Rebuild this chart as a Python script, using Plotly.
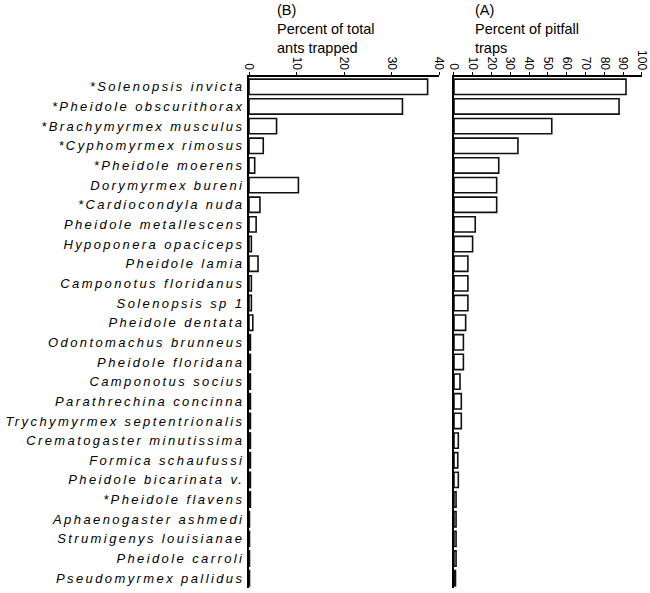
import plotly.graph_objects as go

species = [
    "*Solenopsis invicta", "*Pheidole obscurithorax", "*Brachymyrmex musculus",
    "*Cyphomyrmex rimosus", "*Pheidole moerens", "Dorymyrmex bureni",
    "*Cardiocondyla nuda", "Pheidole metallescens", "Hypoponera opaciceps",
    "Pheidole lamia", "Camponotus floridanus", "Solenopsis sp 1",
    "Pheidole dentata", "Odontomachus brunneus", "Pheidole floridana",
    "Camponotus socius", "Parathrechina concinna", "Trychymyrmex septentrionalis",
    "Crematogaster minutissima", "Formica schaufussi", "Pheidole bicarinata v.",
    "*Pheidole flavens", "Aphaenogaster ashmedi", "Strumigenys louisianae",
    "Pheidole carroli", "Pseudomyrmex pallidus",
]

# (B) Percent of total ants trapped
pct_ants = [37.6, 32.3, 5.8, 3.0, 1.2, 10.4, 2.3, 1.5, 0.5, 1.9, 0.5, 0.5,
            0.8, 0.3, 0.3, 0.3, 0.3, 0.3, 0.3, 0.3, 0.3, 0.3, 0.1, 0.1, 0.1, 0.1]

# (A) Percent of pitfall traps
pct_traps = [91.5, 87.8, 52.0, 34.0, 23.8, 22.7, 22.7, 11.3, 9.9, 7.4, 7.4, 7.4,
             6.2, 5.0, 5.0, 3.2, 3.9, 3.9, 2.3, 2.0, 2.3, 1.1, 1.1, 1.1, 1.1, 0.8]

ticks_B = [0, 10, 20, 30, 40]
ticks_A = [0, 10, 20, 30, 40, 50, 60, 70, 80, 90, 100]

FONT = "Arial, Liberation Sans, sans-serif"

ticktext = ['<span style="letter-spacing:2.4px">%s</span>' % s for s in species]

bar_style = dict(color="white", line=dict(color="#111111", width=1.6))

fig = go.Figure()
fig.add_trace(go.Bar(x=pct_ants, y=species, orientation="h", marker=bar_style,
                     width=0.78, xaxis="x", yaxis="y", showlegend=False,
                     hoverinfo="skip"))
fig.add_trace(go.Bar(x=pct_traps, y=species, orientation="h", marker=bar_style,
                     width=0.78, xaxis="x2", yaxis="y2", showlegend=False,
                     hoverinfo="skip"))

xcommon = dict(side="top", showline=True, linecolor="black", linewidth=1.5,
               ticks="outside", ticklen=3, tickcolor="black", tickwidth=1.2,
               ticklabelstandoff=-2,
               tickangle=90, showgrid=False, zeroline=False, automargin=False,
               tickfont=dict(family=FONT, size=12, color="black"))
ycommon = dict(showline=True, linecolor="black", linewidth=2, showgrid=False,
               zeroline=False, autorange=False, range=[25.5, -0.5], automargin=False,
               categoryorder="array", categoryarray=species, ticks="")

fig.update_layout(
    width=650, height=593,
    margin=dict(l=249, r=8, t=77, b=5),
    paper_bgcolor="white", plot_bgcolor="white",
    bargap=0.2, hovermode=False,
    xaxis=dict(domain=[0, 0.4835], range=[0, 40], tickvals=ticks_B,
               anchor="y", **xcommon),
    xaxis2=dict(domain=[0.5216, 1], range=[0, 100], tickvals=ticks_A,
                anchor="y2", **xcommon),
    yaxis=dict(anchor="x", tickvals=species, ticktext=ticktext,
               tickfont=dict(family=FONT, size=13, color="black", style="italic"),
               **ycommon),
    yaxis2=dict(anchor="x2", matches="y", showticklabels=False, **ycommon),
    annotations=[
        dict(text="(B)<br>Percent of total<br>ants trapped", xref="paper", yref="paper",
             x=0.066, y=1.151, xanchor="left", yanchor="top", align="left",
             showarrow=False, font=dict(family=FONT, size=14.5, color="black")),
        dict(text="(A)<br>Percent of pitfall<br>traps", xref="paper", yref="paper",
             x=0.570, y=1.151, xanchor="left", yanchor="top", align="left",
             showarrow=False, font=dict(family=FONT, size=14.5, color="black")),
    ],
)

fig.write_html("out.html", config={"displayModeBar": False},
               post_script="document.body.style.margin='0';")
